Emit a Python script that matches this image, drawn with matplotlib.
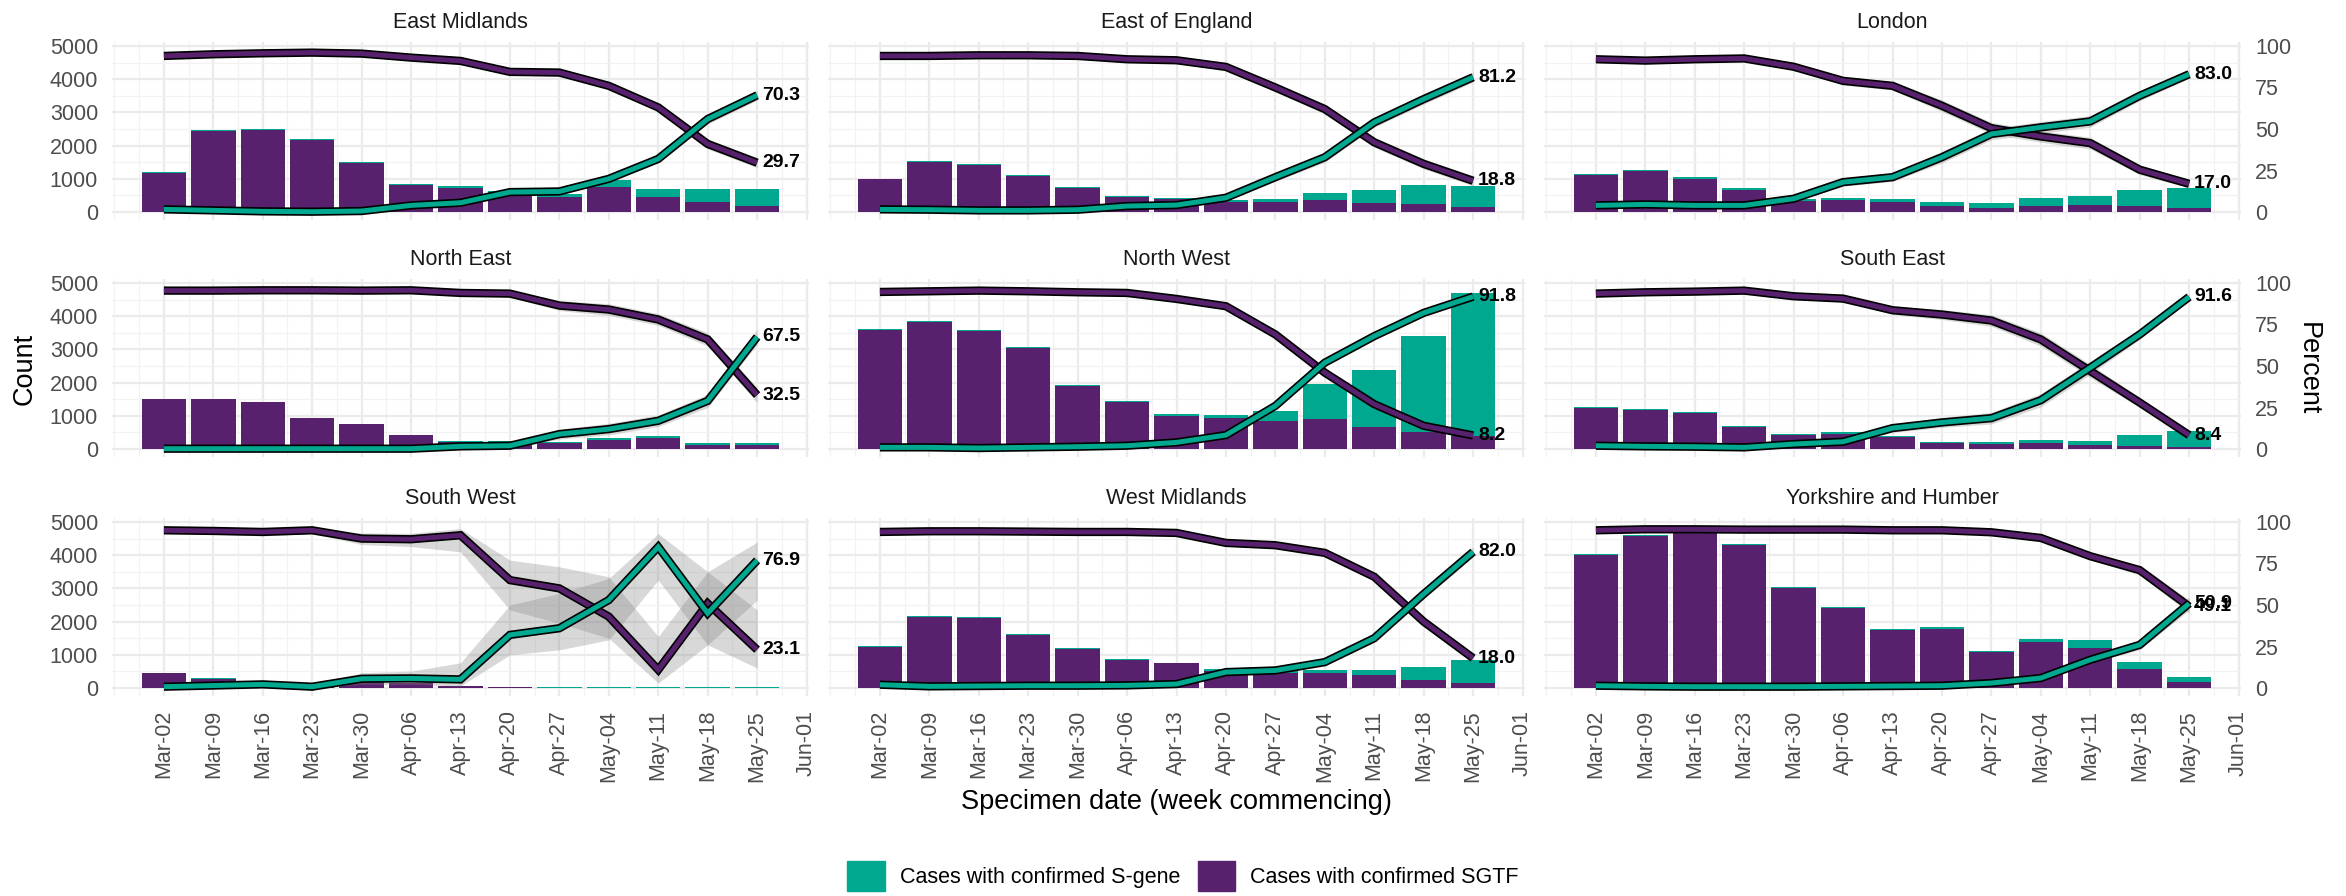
import numpy as np
import matplotlib
matplotlib.use("Agg")
import matplotlib.pyplot as plt
import matplotlib.patheffects as pe
from matplotlib.patches import Patch

plt.rcParams['font.family'] = ['Liberation Sans', 'DejaVu Sans']

# --- data ---
week_labels = ["Mar-02", "Mar-09", "Mar-16", "Mar-23", "Mar-30", "Apr-06", "Apr-13",
               "Apr-20", "Apr-27", "May-04", "May-11", "May-18", "May-25", "Jun-01"]

regions = ["East Midlands", "East of England", "London",
           "North East", "North West", "South East",
           "South West", "West Midlands", "Yorkshire and Humber"]

# total confirmed cases per week (bar height)
total_count = {
    "East Midlands":        [1200, 2470, 2500, 2190, 1500, 830, 780, 620, 550, 950, 690, 690, 680],
    "East of England":      [1000, 1530, 1450, 1120, 740, 470, 420, 350, 380, 570, 650, 810, 770],
    "London":               [1150, 1280, 1050, 710, 380, 430, 400, 290, 260, 410, 490, 670, 730],
    "North East":           [1500, 1520, 1430, 930, 750, 430, 230, 230, 200, 320, 380, 170, 170],
    "North West":           [3620, 3850, 3570, 3070, 1920, 1450, 1050, 1030, 1150, 1950, 2370, 3400, 4700],
    "South East":           [1280, 1220, 1120, 680, 450, 500, 400, 200, 200, 260, 250, 420, 550],
    "South West":           [450, 290, 150, 140, 230, 160, 70, 30, 20, 20, 25, 20, 25],
    "West Midlands":        [1280, 2170, 2140, 1620, 1200, 870, 760, 580, 500, 550, 550, 630, 840],
    "Yorkshire and Humber": [4030, 4620, 4770, 4330, 3030, 2450, 1770, 1830, 1120, 1480, 1450, 790, 330],
}
# SGTF part of each bar (the rest is S-gene)
sgtf_count = {
    "East Midlands":        [1170, 2430, 2460, 2160, 1470, 800, 720, 500, 450, 750, 450, 300, 190],
    "East of England":      [980, 1500, 1430, 1090, 710, 440, 380, 300, 290, 350, 280, 250, 140],
    "London":               [1110, 1230, 1000, 660, 340, 350, 310, 180, 110, 180, 200, 170, 120],
    "North East":           [1500, 1520, 1430, 930, 750, 430, 220, 200, 180, 280, 320, 130, 120],
    "North West":           [3590, 3820, 3540, 3040, 1890, 1420, 1000, 930, 830, 900, 670, 500, 380],
    "South East":           [1250, 1190, 1100, 660, 430, 450, 350, 170, 150, 190, 120, 100, 50],
    "South West":           [440, 285, 147, 138, 220, 150, 64, 20, 12, 8, 3, 10, 6],
    "West Midlands":        [1250, 2140, 2110, 1590, 1170, 850, 740, 520, 450, 450, 380, 250, 140],
    "Yorkshire and Humber": [4000, 4580, 4750, 4300, 3000, 2420, 1740, 1790, 1090, 1400, 1200, 570, 170],
}

pct_sgtf = {
    "East Midlands":        [94.0, 95.0, 95.6, 96.0, 95.4, 93.0, 91.0, 84.4, 84.0, 76.0, 63.0, 41.0, 29.7],
    "East of England":      [94.0, 94.0, 94.4, 94.4, 94.0, 92.0, 91.4, 87.4, 75.0, 62.0, 42.0, 29.0, 18.8],
    "London":               [92.0, 91.2, 92.0, 92.5, 87.5, 79.0, 76.0, 64.0, 50.5, 45.5, 41.5, 25.5, 17.0],
    "North East":           [95.4, 95.4, 95.6, 95.6, 95.4, 95.6, 94.0, 93.6, 86.4, 84.0, 78.0, 66.0, 32.5],
    "North West":           [94.6, 95.0, 95.4, 95.0, 94.4, 94.0, 90.4, 86.0, 69.0, 46.0, 27.0, 14.0, 8.2],
    "South East":           [93.6, 94.4, 94.8, 95.4, 92.0, 90.6, 83.6, 81.0, 77.4, 66.0, 47.0, 28.0, 8.4],
    "South West":           [95.0, 94.6, 94.0, 95.0, 90.0, 89.6, 92.0, 65.0, 60.0, 43.0, 11.0, 51.0, 23.1],
    "West Midlands":        [94.0, 94.4, 94.4, 94.2, 94.0, 94.0, 93.4, 87.4, 86.0, 81.4, 67.0, 40.0, 18.0],
    "Yorkshire and Humber": [95.0, 95.6, 95.6, 95.4, 95.4, 95.4, 95.0, 95.0, 93.8, 90.4, 79.4, 71.0, 49.1],
}
pct_sgene = {
    "East Midlands":        [1.6, 1.0, 0.4, 0.2, 0.6, 4.0, 5.6, 12.0, 12.4, 20.0, 32.0, 56.0, 70.3],
    "East of England":      [1.6, 1.4, 1.0, 1.0, 1.4, 3.6, 4.2, 8.6, 21.0, 33.0, 54.0, 68.0, 81.2],
    "London":               [4.0, 4.6, 4.0, 4.0, 8.0, 18.0, 21.0, 33.0, 47.0, 51.0, 54.6, 70.0, 83.0],
    "North East":           [0.2, 0.2, 0.2, 0.2, 0.2, 0.2, 1.6, 2.0, 9.0, 12.0, 17.0, 29.0, 67.5],
    "North West":           [1.0, 1.0, 0.6, 1.0, 1.4, 2.0, 4.0, 8.4, 26.0, 52.0, 68.0, 82.0, 91.8],
    "South East":           [2.0, 1.6, 1.4, 1.0, 3.0, 4.4, 12.6, 16.0, 18.6, 29.4, 49.0, 69.0, 91.6],
    "South West":           [0.8, 1.5, 2.2, 0.8, 5.6, 5.8, 5.2, 32.0, 36.0, 53.0, 85.0, 45.0, 76.9],
    "West Midlands":        [2.0, 1.0, 1.2, 1.4, 1.4, 1.6, 2.4, 9.6, 10.6, 15.6, 30.0, 56.6, 82.0],
    "Yorkshire and Humber": [1.4, 1.0, 0.8, 0.8, 0.8, 1.0, 1.2, 1.4, 3.0, 6.0, 17.0, 26.0, 50.9],
}

# 95% CI around the S-gene percentage (below / above, in points);
# the SGTF band uses the same widths swapped
ci_below = {
    "East Midlands":        [1.0, 1.0, 0.4, 0.2, 0.6, 1.5, 1.5, 2.0, 2.0, 2.0, 2.5, 3.0, 3.0],
    "East of England":      [0.8, 0.8, 0.8, 0.8, 1.0, 1.5, 1.5, 2.0, 2.5, 3.0, 3.0, 3.0, 3.0],
    "London":               [1.0, 1.0, 1.0, 1.0, 1.5, 2.5, 2.5, 3.5, 3.5, 3.5, 3.5, 3.0, 2.5],
    "North East":           [0.2, 0.2, 0.2, 0.2, 0.2, 0.2, 1.5, 2.0, 3.0, 3.5, 3.5, 4.0, 4.5],
    "North West":           [0.6, 0.6, 0.6, 0.6, 0.8, 1.0, 1.5, 2.0, 2.0, 2.0, 1.5, 1.2, 1.0],
    "South East":           [1.0, 1.0, 1.0, 1.0, 1.5, 1.5, 2.5, 3.0, 3.5, 4.0, 4.0, 3.0, 2.0],
    "South West":           [0.8, 1.5, 1.6, 0.8, 3.4, 3.6, 4.0, 12.0, 13.0, 24.0, 20.0, 19.0, 24.0],
    "West Midlands":        [1.0, 1.0, 1.0, 1.0, 1.0, 1.0, 1.2, 2.0, 2.0, 2.0, 2.5, 3.0, 3.0],
    "Yorkshire and Humber": [0.6, 0.5, 0.5, 0.5, 0.6, 0.6, 0.8, 0.8, 1.0, 1.5, 2.0, 3.0, 4.0],
}
ci_above = {
    "East Midlands":        [1.0, 1.0, 1.0, 1.0, 1.0, 1.5, 1.5, 2.0, 2.0, 2.0, 2.5, 3.0, 3.0],
    "East of England":      [0.8, 0.8, 0.8, 0.8, 1.0, 1.5, 1.5, 2.0, 2.5, 3.0, 3.0, 3.0, 3.0],
    "London":               [1.0, 1.0, 1.0, 1.0, 1.5, 2.5, 2.5, 3.5, 3.5, 3.5, 3.5, 3.0, 2.5],
    "North East":           [1.0, 1.0, 1.0, 1.0, 1.0, 1.0, 1.5, 2.0, 3.0, 3.5, 3.5, 4.0, 4.5],
    "North West":           [0.6, 0.6, 0.6, 0.6, 0.8, 1.0, 1.5, 2.0, 2.0, 2.0, 1.5, 1.2, 1.0],
    "South East":           [1.0, 1.0, 1.0, 1.0, 1.5, 1.5, 2.5, 3.0, 3.5, 4.0, 4.0, 3.0, 2.0],
    "South West":           [2.0, 2.0, 2.4, 2.0, 3.6, 4.4, 10.0, 18.0, 21.0, 13.0, 8.0, 25.0, 11.0],
    "West Midlands":        [1.0, 1.0, 1.0, 1.0, 1.0, 1.0, 1.2, 2.0, 2.0, 2.0, 2.5, 3.0, 3.0],
    "Yorkshire and Humber": [0.6, 0.5, 0.5, 0.5, 0.6, 0.6, 0.8, 0.8, 1.0, 1.5, 2.0, 3.0, 4.0],
}

GREEN = "#00A88F"
PURPLE = "#58216D"
SCALE = 50.0  # 100 % on the right axis == 5000 on the left

W, H = 2346, 896
fig = plt.figure(figsize=(W / 100, H / 100), dpi=100)

# panel geometry in pixels
col_left = [112, 828, 1544]
panel_w = 697
row_top = [42, 279, 518]
panel_h = 178

x = np.arange(13)
tick_grey = "#4D4D4D"
TICK_FS = 15.5

for i, reg in enumerate(regions):
    r, c = divmod(i, 3)
    ax = fig.add_axes([col_left[c] / W, 1 - (row_top[r] + panel_h) / H,
                       panel_w / W, panel_h / H])

    tot = np.array(total_count[reg], float)
    sg = np.array(sgtf_count[reg], float)
    pg = np.array(pct_sgene[reg])
    pp = np.array(pct_sgtf[reg])
    lo = np.array(ci_below[reg])
    hi = np.array(ci_above[reg])

    ax.bar(x, sg, width=0.9, color=PURPLE, linewidth=0, zorder=2)
    ax.bar(x, tot - sg, bottom=sg, width=0.9, color=GREEN, linewidth=0, zorder=2)

    ax.fill_between(x, (pp - hi) * SCALE, (pp + lo) * SCALE, color="grey",
                    alpha=0.3, linewidth=0, zorder=3)
    ax.fill_between(x, (pg - lo) * SCALE, (pg + hi) * SCALE, color="grey",
                    alpha=0.3, linewidth=0, zorder=3)

    for vals, col in ((pp, PURPLE), (pg, GREEN)):
        ax.plot(x, vals * SCALE, color=col, lw=3.6, zorder=4,
                solid_joinstyle="miter", solid_capstyle="butt",
                path_effects=[pe.Stroke(linewidth=6.0, foreground="black"),
                              pe.Normal()])
        ax.text(12.1, vals[-1] * SCALE, f"{vals[-1]:.1f}", fontsize=14,
                fontweight="bold", ha="left", va="center", zorder=5)

    ax.set_xlim(-1.05, 13.05)
    ax.set_ylim(-240, 5120)
    ax.set_xticks(np.arange(14))
    ax.set_xticks(np.arange(-1, 13.5, 0.5), minor=True)
    ax.set_yticks(np.arange(0, 5001, 1000))
    ax.set_yticks(np.arange(500, 5000, 1000), minor=True)
    ax.grid(which="major", color="#EBEBEB", lw=1.6, zorder=0)
    ax.grid(which="minor", color="#F2F2F2", lw=0.9, zorder=0)
    ax.set_axisbelow(True)
    for s in ax.spines.values():
        s.set_visible(False)
    ax.tick_params(which="both", length=0, labelsize=TICK_FS, labelcolor=tick_grey, pad=10)

    if r == 2:
        ax.set_xticklabels(week_labels, rotation=90)
    else:
        ax.tick_params(labelbottom=False)
    if c != 0:
        ax.tick_params(labelleft=False)

    if c == 2:
        sec = ax.secondary_yaxis("right", functions=(lambda v: v / SCALE,
                                                     lambda p: p * SCALE))
        sec.set_yticks([0, 25, 50, 75, 100])
        sec.tick_params(length=0, labelsize=TICK_FS, labelcolor=tick_grey, pad=10)
        for s in sec.spines.values():
            s.set_visible(False)

    ax.set_title(reg, fontsize=TICK_FS, color="#1A1A1A", pad=10)

fig.text(25 / W, 1 - 369 / H, "Count", rotation=90, fontsize=19.5,
         ha="center", va="center")
fig.text(2308 / W, 1 - 369 / H, "Percent", rotation=-90, fontsize=19.5,
         ha="center", va="center")
fig.text(1176 / W, 1 - 802 / H, "Specimen date (week commencing)", fontsize=19.5,
         ha="center", va="center")

handles = [Patch(color=GREEN, label="Cases with confirmed S-gene"),
           Patch(color=PURPLE, label="Cases with confirmed SGTF")]
fig.legend(handles=handles, loc="center", bbox_to_anchor=(1183 / W, 1 - 876 / H),
           ncol=2, frameon=False, fontsize=TICK_FS, handlelength=1.75, handleheight=1.75,
           handletextpad=0.7, columnspacing=0.8)

fig.savefig("out.png", dpi=100, facecolor="white")
